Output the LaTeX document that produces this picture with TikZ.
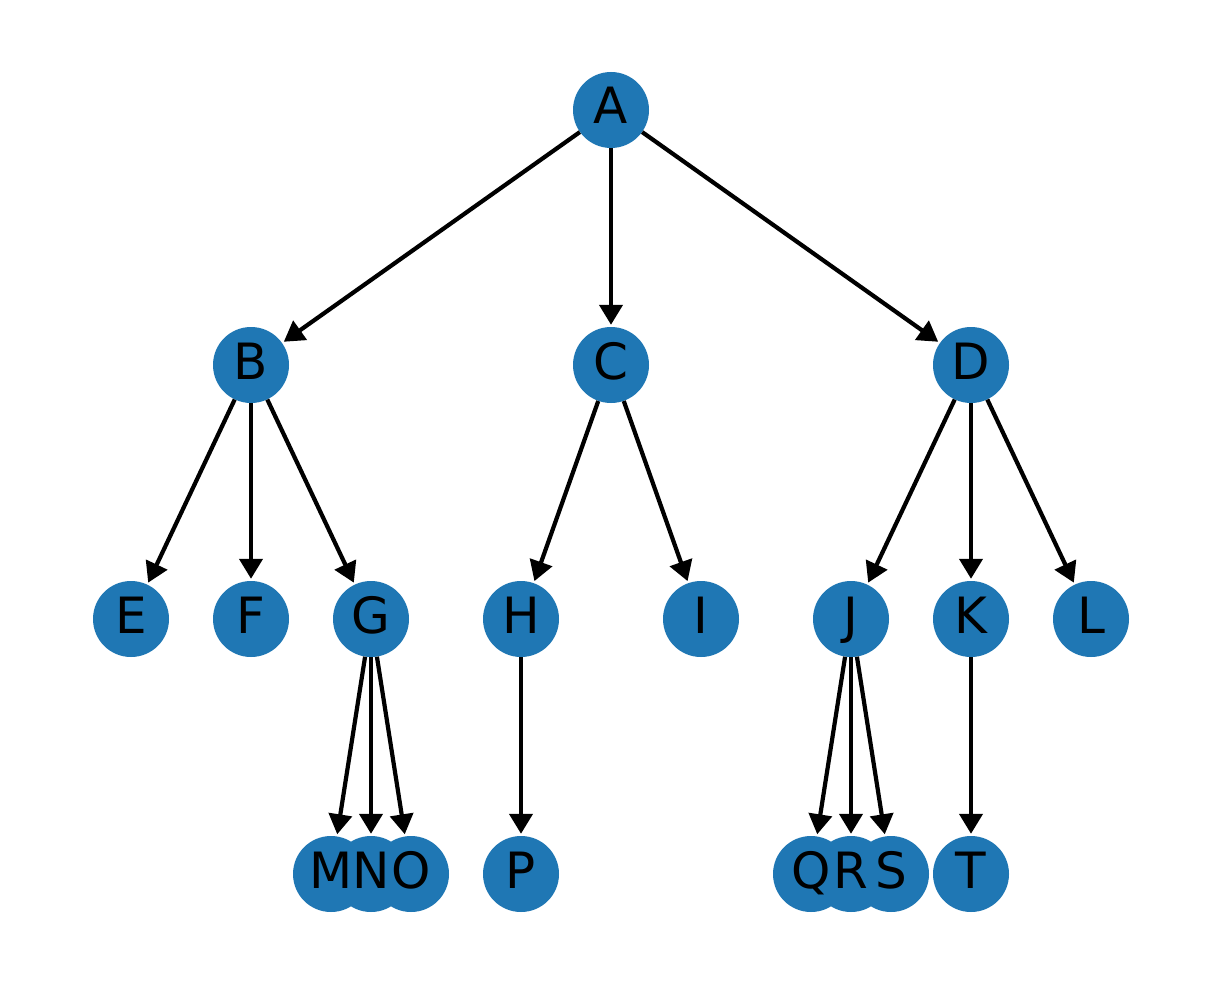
\documentclass[tikz,border=0pt]{standalone}
\usepackage{fontspec}
\setmainfont{DejaVu Sans}
\usetikzlibrary{arrows.meta}
\definecolor{nodeblue}{RGB}{31,119,180}
\begin{document}
\begin{tikzpicture}[x=1pt,y=-1pt,
  vtx/.style={circle,fill=nodeblue,draw=none,minimum size=76pt,inner sep=0pt},
  lbl/.style={anchor=base,inner sep=0pt,font=\fontsize{50}{50}\selectfont},
  edge/.style={line width=4.2pt,shorten >=2pt,-{Triangle[length=20pt,width=23pt]}}]
\useasboundingbox[fill=white] (0,0) rectangle (1222,984);
% tree vertices
\foreach \n/\x/\y in {A/611/110,
  B/251/365, C/611/365, D/971/365,
  E/131/619, F/251/619, G/371/619, H/521/619, I/701/619, J/851/619, K/971/619, L/1091/619,
  M/331/874, N/371/874, O/411/874, P/521/874, Q/811/874, R/851/874, S/891/874, T/971/874}
  \node[vtx] (\n) at (\x,\y) {};
% directed edges
\foreach \a/\b in {A/B, A/C, A/D, B/E, B/F, B/G, C/H, C/I, D/J, D/K, D/L,
  G/M, G/N, G/O, H/P, J/Q, J/R, J/S, K/T}
  \draw[edge] (\a) -- (\b);
% labels on top of all discs
\foreach \n in {A,B,C,D,E,F,G,H,I,J,K,L,M,N,O,P,Q,R,S,T}
  \node[lbl] at ([yshift=-14pt]\n.center) {\n};
\end{tikzpicture}
\end{document}
